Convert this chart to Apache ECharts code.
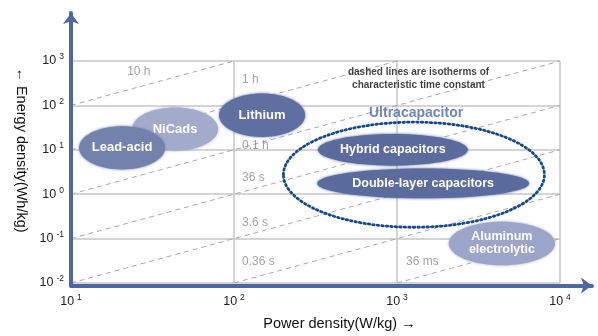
<!DOCTYPE html>
<html>
<head>
<meta charset="utf-8">
<script src="https://cdn.jsdelivr.net/npm/echarts@6/dist/echarts.min.js"></script>
<style>html,body{margin:0;padding:0;background:#fff;}#c{width:598px;height:336px;}</style>
</head>
<body>
<div id="c"></div>
<script>
// ---- data ----
const categories = ['NiCads', 'Lead-acid', 'Lithium', 'Hybrid capacitors', 'Double-layer capacitors', 'Aluminum\nelectrolytic'];
const powerMin  = [23.7, 11.2, 81, 327, 324, 2080];
const powerMax  = [79.8, 37.8, 273, 2720, 6460, 9310];
const energyMin = [9.5, 3.6, 19.5, 4.4, 0.81, 0.025];
const energyMax = [90, 34, 185, 22.7, 3.78, 0.24];

const groupName = 'Ultracapacitor';
const groupPower = [201, 8020];
const groupEnergy = [0.18, 42];

const isoNames = ['10 h', '1 h', '0.1 h', '36 s', '3.6 s', '0.36 s', '36 ms'];
const isoStart = [[10, 100], [10, 10], [10, 1], [10, 0.1], [10, 0.01], [100, 0.01], [1000, 0.01]];
const isoEnd   = [[100, 1000], [1000, 1000], [10000, 1000], [10000, 100], [10000, 10], [10000, 1], [10000, 0.1]];
const isoLabelPower  = [22.1, 112, 112, 112, 112, 112, 1135];
const isoLabelEnergy = [583, 378, 12.3, 2.36, 0.234, 0.0297, 0.0297];

const noteText = 'dashed lines are isotherms of\ncharacteristic time constant';
const notePos = [1355, 407];
const groupLabelPos = [1309, 66];

const xTicks = [10, 100, 1000, 10000];
const yTicks = [0.01, 0.1, 1, 10, 100, 1000];
const xTitle = 'Power density(W/kg) \u2192';
const yTitle = '\u2190 Energy density(Wh/kg)';

// ---- styles ----
const FONT = '"Liberation Sans", Arial, Helvetica, sans-serif';
const fillColors = {
  'NiCads': '#a3aaca',
  'Lead-acid': '#7381ad',
  'Lithium': '#5f6f9f',
  'Hybrid capacitors': '#5b6b9d',
  'Double-layer capacitors': '#5b6b9d',
  'Aluminum\nelectrolytic': '#9ca5c9'
};
const axisBlue = '#4d67a2';

const chart = echarts.init(document.getElementById('c'), null, {renderer: 'canvas'});

function expLabel(v) {
  const e = Math.round(Math.log10(v));
  return '{b|10}{s|' + e + '}';
}
const tickRich = {
  b: {fontSize: 12.5, fontFamily: FONT, color: '#222', lineHeight: 17},
  s: {fontSize: 8.5, fontFamily: FONT, color: '#222', verticalAlign: 'top', padding: [0, 0, 0, 3], lineHeight: 9}
};

const ellipseData = categories.map((c, i) => [powerMin[i], powerMax[i], energyMin[i], energyMax[i], c]);

const series = [];

// isolines
isoNames.forEach((n, i) => {
  series.push({
    type: 'line', xAxisIndex: 1, yAxisIndex: 1, name: n,
    data: [isoStart[i], isoEnd[i]],
    symbol: 'none', silent: true, z: 2,
    lineStyle: {color: '#a9a9a9', width: 1, type: [5, 4]}
  });
});

// isoline labels
series.push({
  type: 'scatter', xAxisIndex: 1, yAxisIndex: 1, symbolSize: 0, silent: true, z: 3,
  data: isoNames.map((n, i) => ({name: n, value: [isoLabelPower[i], isoLabelEnergy[i]]})),
  label: {show: true, position: 'right', distance: 0, formatter: '{b}', color: '#8a8a8a', fontSize: 12, fontFamily: FONT}
});

// technology ellipses
series.push({
  type: 'custom', xAxisIndex: 1, yAxisIndex: 1, z: 5, silent: true,
  data: ellipseData,
  encode: {x: [0, 1], y: [2, 3]},
  renderItem: function (params, api) {
    const p0 = api.coord([api.value(0), api.value(2)]);
    const p1 = api.coord([api.value(1), api.value(3)]);
    const cx = (p0[0] + p1[0]) / 2, cy = (p0[1] + p1[1]) / 2;
    const rx = Math.abs(p1[0] - p0[0]) / 2, ry = Math.abs(p1[1] - p0[1]) / 2;
    const name = ellipseData[params.dataIndex][4];
    const col = fillColors[name];
    const big = name.indexOf('capacitors') >= 0 || name.indexOf('Alum') === 0;
    return {
      type: 'group',
      children: [
        {type: 'ellipse', shape: {cx: cx, cy: cy, rx: rx, ry: ry},
         style: {fill: col, shadowBlur: 3, shadowColor: col}},
        {type: 'text', x: cx, y: cy,
         style: {text: name, fill: '#ffffff', align: 'center', verticalAlign: 'middle',
                 font: 'bold ' + (big ? 12.5 : 13) + 'px ' + FONT, lineHeight: 13}}
      ]
    };
  }
});

// ultracapacitor dotted ellipse
series.push({
  type: 'custom', xAxisIndex: 1, yAxisIndex: 1, z: 6, silent: true,
  data: [[groupPower[0], groupPower[1], groupEnergy[0], groupEnergy[1]]],
  encode: {x: [0, 1], y: [2, 3]},
  renderItem: function (params, api) {
    const p0 = api.coord([api.value(0), api.value(2)]);
    const p1 = api.coord([api.value(1), api.value(3)]);
    return {
      type: 'ellipse',
      shape: {cx: (p0[0] + p1[0]) / 2, cy: (p0[1] + p1[1]) / 2, rx: Math.abs(p1[0] - p0[0]) / 2, ry: Math.abs(p1[1] - p0[1]) / 2},
      style: {fill: null, stroke: '#174887', lineWidth: 2.8, lineDash: [1.5, 3], lineCap: 'round'}
    };
  }
});

// annotations
series.push({
  type: 'scatter', xAxisIndex: 1, yAxisIndex: 1, symbolSize: 0, silent: true, z: 7,
  data: [
    {name: groupName, value: groupLabelPos,
     label: {color: '#4a69a7', fontSize: 14, fontWeight: 'bold'}},
    {name: noteText, value: notePos,
     label: {color: '#111', fontSize: 10, fontWeight: 'bold', lineHeight: 13}}
  ],
  label: {show: true, position: 'inside', formatter: '{b}', fontFamily: FONT, align: 'center', verticalAlign: 'middle'}
});

const option = {
  animation: false,
  backgroundColor: '#ffffff',
  textStyle: {fontFamily: FONT},
  grid: [
    {left: 71, top: 13, right: 6, bottom: 50.5, containLabel: false},
    {left: 71, top: 61, width: 489, bottom: 50.5, containLabel: false}
  ],
  xAxis: [
    {gridIndex: 0, type: 'value', min: 0, max: 1, z: 10,
     axisLine: {show: true, symbol: ['none', 'arrow'], symbolSize: [12, 11], lineStyle: {color: axisBlue, width: 4}},
     axisTick: {show: false}, axisLabel: {show: false}, splitLine: {show: false}},
    {gridIndex: 1, type: 'log', logBase: 10, min: xTicks[0], max: xTicks[xTicks.length - 1],
     name: xTitle, nameLocation: 'middle', nameGap: 33,
     nameTextStyle: {fontSize: 14.5, color: '#111', fontFamily: FONT, padding: [0, 0, 0, 48], verticalAlign: 'top'},
     axisLine: {show: false}, axisTick: {show: false},
     axisLabel: {show: true, margin: 10, formatter: expLabel, rich: tickRich},
     splitLine: {show: true, lineStyle: {color: '#c6c6c6', width: 1.5}}}
  ],
  yAxis: [
    {gridIndex: 0, type: 'value', min: 0, max: 1, z: 10,
     axisLine: {show: true, symbol: ['none', 'arrow'], symbolSize: [12, 11], lineStyle: {color: axisBlue, width: 4}},
     axisTick: {show: false}, axisLabel: {show: false}, splitLine: {show: false}},
    {gridIndex: 1, type: 'log', logBase: 10, min: yTicks[0], max: yTicks[yTicks.length - 1],
     name: yTitle, nameLocation: 'middle', nameGap: 43, nameRotate: -90,
     nameTextStyle: {fontSize: 14.5, color: '#111', fontFamily: FONT, padding: [0, 44, 0, 0]},
     axisLine: {show: false}, axisTick: {show: false},
     axisLabel: {show: true, margin: 7, formatter: expLabel, rich: tickRich},
     splitLine: {show: true, lineStyle: {color: '#c6c6c6', width: 1.5}}}
  ],
  series: series
};
chart.setOption(option);
</script>
</body>
</html>
